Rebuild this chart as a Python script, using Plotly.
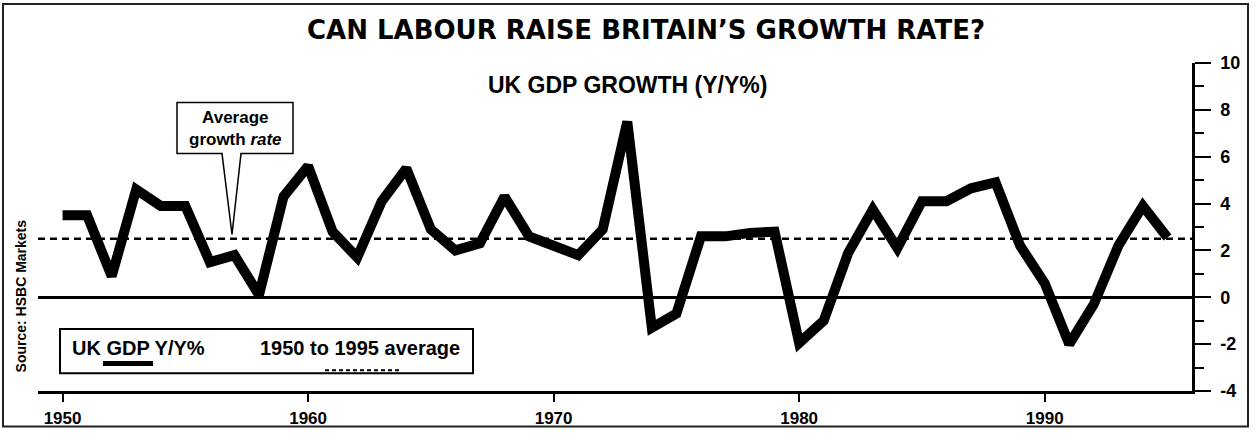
import plotly.graph_objects as go

years = list(range(1950, 1996))
gdp_growth = [3.5, 3.5, 0.9, 4.6, 3.9, 3.9, 1.5, 1.8, 0.1, 4.3,
              5.6, 2.8, 1.7, 4.1, 5.5, 2.9, 2.0, 2.3, 4.3, 2.6,
              2.2, 1.8, 2.9, 7.5, -1.3, -0.7, 2.6, 2.6, 2.75, 2.8,
              -1.95, -1.0, 1.9, 3.75, 2.1, 4.1, 4.1, 4.65, 4.9, 2.2,
              0.6, -2.0, -0.3, 2.2, 3.9, 2.55]
average_growth = 2.5
x_ticks = [1950, 1960, 1970, 1980, 1990]
y_ticks = [-4, -2, 0, 2, 4, 6, 8, 10]

W, H = 1258, 440
L, R, T, B = 38, 66, 63, 44
pw, ph = W - L - R, H - T - B


def px(x):
    return (x - L) / pw


def py(y):
    return (H - B - y) / ph


SANS = "Liberation Sans, Arial"

fig = go.Figure()
fig.add_trace(go.Scatter(
    x=years, y=gdp_growth, mode="lines",
    line=dict(color="black", width=10), showlegend=False,
    hoverinfo="x+y"))

# average line
fig.add_shape(type="line", xref="paper", yref="y", x0=0, x1=1,
              y0=average_growth, y1=average_growth,
              line=dict(color="black", width=2.5, dash="7px,5px"), layer="below")

# outer border
fig.add_shape(type="rect", xref="paper", yref="paper",
              x0=px(3), x1=px(1248), y0=py(432), y1=py(3),
              line=dict(color="#222", width=2))

# legend box
fig.add_shape(type="rect", xref="paper", yref="paper",
              x0=px(60), x1=px(473), y0=py(378), y1=py(333),
              line=dict(color="black", width=2), fillcolor="white")
fig.add_shape(type="line", xref="paper", yref="paper",
              x0=px(103), x1=px(153), y0=py(368), y1=py(368),
              line=dict(color="black", width=5))
fig.add_shape(type="line", xref="paper", yref="paper",
              x0=px(325), x1=px(400), y0=py(375), y1=py(375),
              line=dict(color="black", width=2, dash="4px,3px"))
fig.add_annotation(xref="paper", yref="paper", x=px(70), y=py(352),
                   xanchor="left", yanchor="middle", showarrow=False,
                   text="<b>UK GDP Y/Y%</b>",
                   font=dict(family=SANS, size=20, color="black"))
fig.add_annotation(xref="paper", yref="paper", x=px(258), y=py(352),
                   xanchor="left", yanchor="middle", showarrow=False,
                   text="<b>1950 to 1995 average</b>",
                   font=dict(family=SANS, size=20, color="black"))

# callout box
bx0, bx1, by0, by1 = px(177), px(293), py(155), py(103)
bl, br, tipx, tipy = px(222), px(241), px(232), py(237)
path = (f"M {bx0},{by0} L {bl},{by0} L {tipx},{tipy} L {br},{by0} "
        f"L {bx1},{by0} L {bx1},{by1} L {bx0},{by1} Z")
fig.add_shape(type="path", xref="paper", yref="paper", path=path,
              line=dict(color="black", width=1.5), fillcolor="white")
fig.add_annotation(xref="paper", yref="paper", x=px(235), y=py(130),
                   xanchor="center", yanchor="middle", showarrow=False,
                   text="<b>Average</b><br><b>growth <i>rate</i></b>",
                   font=dict(family=SANS, size=17, color="black"))

# titles
fig.add_annotation(xref="paper", yref="paper", x=px(646), y=py(30),
                   xanchor="center", yanchor="middle", showarrow=False,
                   text="<b>CAN LABOUR RAISE BRITAIN\u2019S GROWTH RATE?</b>",
                   font=dict(family="DejaVu Sans", size=26, color="black"))
fig.add_annotation(xref="paper", yref="paper", x=px(627), y=py(85),
                   xanchor="center", yanchor="middle", showarrow=False,
                   text="<b>UK GDP GROWTH (Y/Y%)</b>",
                   font=dict(family=SANS, size=23, color="black"))
fig.add_annotation(xref="paper", yref="paper", x=px(21), y=py(300),
                   xanchor="center", yanchor="middle", showarrow=False,
                   textangle=-90, text="<b>Source: HSBC Markets</b>",
                   font=dict(family=SANS, size=14, color="black"))

fig.update_layout(
    width=W, height=H,
    margin=dict(l=L, r=R, t=T, b=B),
    paper_bgcolor="white", plot_bgcolor="white",
    xaxis=dict(range=[1949, 1996], tickmode="array", tickvals=x_ticks,
               ticktext=[f"<b>{v}</b>" for v in x_ticks],
               ticks="outside", ticklen=8, tickwidth=2, tickcolor="black",
               showline=True, linecolor="black", linewidth=2.5,
               showgrid=False, zeroline=False,
               tickfont=dict(family=SANS, size=17, color="black"),
               ticklabelstandoff=2),
    yaxis=dict(range=[-4, 10], tickmode="array", tickvals=y_ticks,
               ticktext=[f"<b>{v}</b>" for v in y_ticks], side="right",
               ticks="outside", ticklen=16, tickwidth=2, tickcolor="black",
               showline=True, linecolor="black", linewidth=2.5,
               showgrid=False, zeroline=True, zerolinecolor="black",
               zerolinewidth=2.5,
               minor=dict(dtick=1, ticks="outside", ticklen=9, tickwidth=2,
                          tickcolor="black", showgrid=False),
               tickfont=dict(family=SANS, size=18, color="black"),
               ticklabelstandoff=6),
)

fig.write_html("out.html")
